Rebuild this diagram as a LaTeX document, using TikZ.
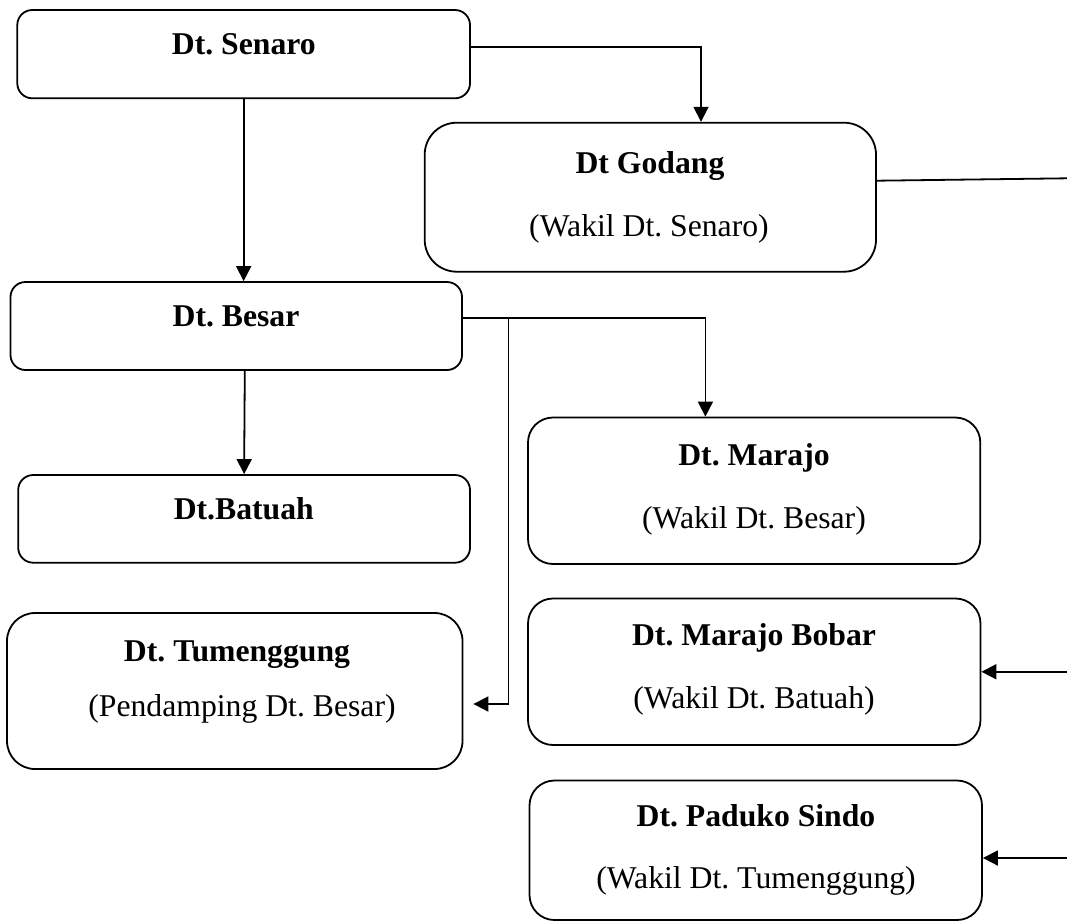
\documentclass[tikz,border=0pt]{standalone}
\usepackage{fontspec}
\setmainfont{Liberation Serif}
\usetikzlibrary{arrows.meta,calc}
\begin{document}
\frenchspacing
\begin{tikzpicture}[x=1pt,y=-1pt,
  box/.style={draw=black, line width=1.8pt, rectangle, inner sep=0pt},
  lbl/.style={anchor=base, inner sep=0pt, font=\fontsize{31.7}{38}\selectfont},
  ttl/.style={anchor=base, inner sep=0pt, font=\fontsize{31.7}{38}\selectfont\bfseries},
  conn/.style={line width=1.8pt},
  arr/.style={conn, -{Triangle[length=15pt,width=15pt]}}]
\useasboundingbox (0,0) rectangle (1067,922);

% boxes
\node[box, rounded corners=15pt, minimum width=452.7pt, minimum height=88.3pt] (senaro) at (243.65,54.15) {};
\node[box, rounded corners=32pt, minimum width=451.3pt, minimum height=149pt] (godang) at (650.35,197.2) {};
\node[box, rounded corners=15pt, minimum width=451.5pt, minimum height=88pt] (besar) at (236.25,326) {};
\node[box, rounded corners=15pt, minimum width=451.8pt, minimum height=87.7pt] (batuah) at (244.1,518.85) {};
\node[box, rounded corners=25pt, minimum width=452.3pt, minimum height=146.5pt] (marajo) at (754.15,490.75) {};
\node[box, rounded corners=28pt, minimum width=455.5pt, minimum height=156pt] (tum) at (234.75,691) {};
\node[box, rounded corners=25pt, minimum width=452.5pt, minimum height=146.5pt] (bobar) at (754.25,671.75) {};
\node[box, rounded corners=25pt, minimum width=452.5pt, minimum height=139.5pt] (paduko) at (755.75,850.25) {};

% texts
\node[ttl] (tSenaro) at (243.8,54) {Dt. Senaro};
\node[ttl] (tGodang) at (650,173.3) {Dt Godang};
\node[lbl] (sGodang) at (649,236.7) {(Wakil Dt. Senaro)};
\node[ttl] (tBesar) at (236,326) {Dt. Besar};
\node[ttl] (tBatuah) at (243.8,519.3) {Dt.Batuah};
\node[ttl] (tMarajo) at (754,465) {Dt. Marajo};
\node[lbl] (sMarajo) at (754,528.3) {(Wakil Dt. Besar)};
\node[ttl] (tTum) at (237,661.7) {Dt. Tumenggung};
\node[lbl] (sTum) at (242,716.7) {(Pendamping Dt. Besar)};
\node[ttl] (tBobar) at (754,645.7) {Dt. Marajo Bobar};
\node[lbl] (sBobar) at (754,708.3) {(Wakil Dt. Batuah)};
\node[ttl] (tPad) at (756,826.7) {Dt. Paduko Sindo};
\node[lbl] (sPad) at (756,888.3) {(Wakil Dt. Tumenggung)};

% connectors
\coordinate (gEnd) at (1067,178.3);
\coordinate (br) at (508.5,317.7);
\coordinate (bobIn) at (1067,671.75);
\coordinate (padIn) at (1067,858);

\draw[arr] ([yshift=7.15pt]senaro.east) -| ([xshift=50.65pt]godang.north);
\draw[arr] (senaro.south) -- (senaro.south |- besar.north);
\draw[conn] ([yshift=16.5pt]godang.east) -- (gEnd);
\draw[arr] ([yshift=8.3pt]besar.east) -| ([xshift=-48.75pt]marajo.north);
\draw[arr] (br) |- ([shift={(10pt,-13pt)}]tum.east);
\draw[arr] ([xshift=8.55pt]besar.south) -- (batuah.north);
\draw[arr] (bobIn) -- (bobar.east);
\draw[arr] (padIn) -- (padIn -| paduko.east);
\end{tikzpicture}
\end{document}
